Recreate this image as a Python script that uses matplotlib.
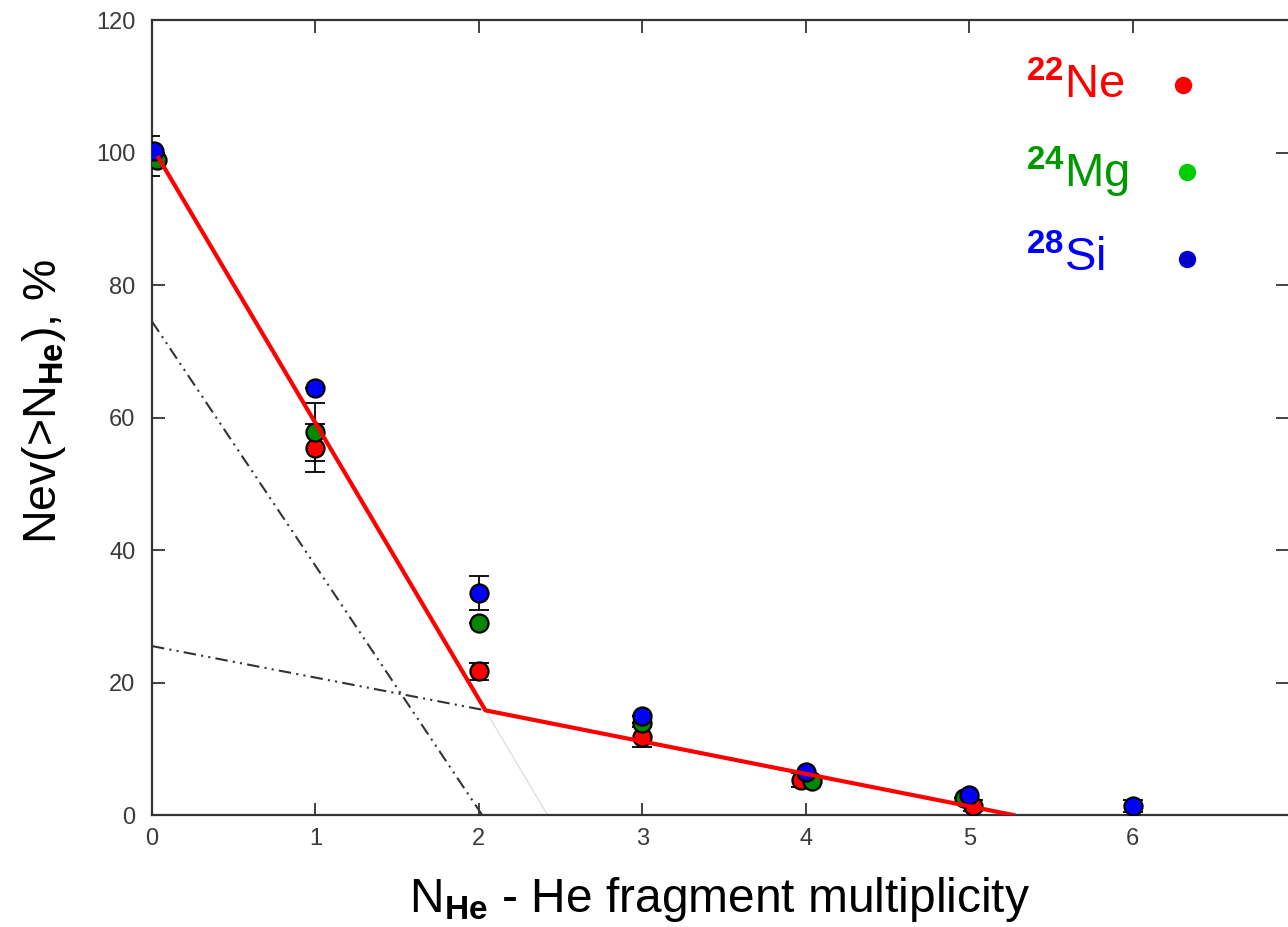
import numpy as np
import matplotlib.pyplot as plt

plt.rcParams['font.family'] = ['Liberation Sans', 'DejaVu Sans']
plt.rcParams['mathtext.fontset'] = 'custom'
plt.rcParams['mathtext.rm'] = 'Liberation Sans'
plt.rcParams['mathtext.bf'] = 'Liberation Sans:bold'

# data
x_ne = [-0.01, 1.0, 2.0, 3.0, 3.97, 5.02]
ne = [99.5, 55.4, 21.7, 11.8, 5.3, 1.4]
ne_err = [3.0, 3.6, 1.3, 1.5, 1.1, 0.8]

x_mg = [0.03, 1.0, 2.0, 3.0, 4.04, 4.97]
mg = [98.9, 57.8, 29.0, 13.9, 5.1, 2.5]
mg_err = [0.0, 4.4, 0.0, 0.0, 0.0, 0.0]

x_si = [0.01, 1.0, 2.0, 3.0, 4.0, 5.0, 6.0]
si = [100.2, 64.5, 33.5, 15.0, 6.5, 3.0, 1.4]
si_err = [0.0, 0.0, 2.6, 0.0, 0.0, 0.0, 0.9]

# two-slope fit (red) and its components
fit_x = [0.04, 2.04, 5.27]
fit_y = [99.2, 15.8, 0.0]
steep_x = [0.0, 2.02]
steep_y = [74.5, 0.0]
flat_x = [0.0, 2.04, 5.27]
flat_y = [25.5, 15.8, 0.0]
faint_x = [2.04, 2.42]
faint_y = [15.8, 0.0]

labels = [r'$^{\mathbf{22}}$Ne', r'$^{\mathbf{24}}$Mg', r'$^{\mathbf{28}}$Si']
text_colors = ['#ff0000', '#009900', '#0000ff']
dot_colors = ['#ff0000', '#00cc00', '#0000cc']
marker_colors = ['#ff0000', '#008800', '#0000ff']

fig = plt.figure(figsize=(12.88, 9.27), dpi=100)
ax = fig.add_axes([0.118, 0.1208, 0.882, 0.8576])

dashdot = (0, (6, 2.5, 1, 2.5, 1, 2.5))
ax.plot(steep_x, steep_y, color='#333333', lw=1.5, ls=dashdot, zorder=2)
ax.plot(flat_x, flat_y, color='#333333', lw=1.5, ls=dashdot, zorder=2)
ax.plot(faint_x, faint_y, color='#e0e0e0', lw=1.0, zorder=2)

for xs, ys, es, c in [(x_ne, ne, ne_err, marker_colors[0]),
                      (x_mg, mg, mg_err, marker_colors[1]),
                      (x_si, si, si_err, marker_colors[2])]:
    ax.errorbar(xs, ys, yerr=es, fmt='none', ecolor='black', elinewidth=1.3,
                capsize=7, capthick=1.3, zorder=3)
    ax.plot(xs, ys, 'o', color=c, mec='black', mew=1.6, ms=13, zorder=4)

ax.plot(fit_x, fit_y, color='#ff0000', lw=3, zorder=5)

ax.set_xlim(0, 6.95)
ax.set_ylim(0, 120)
ax.set_xticks(range(7))
ax.set_yticks(range(0, 121, 20))
ax.tick_params(direction='in', length=9, width=1.2, colors='#222222',
               labelsize=17, top=True, right=True, labelcolor='#3a3a3a')
ax.tick_params(axis='x', pad=9)
ax.tick_params(axis='y', pad=12)
for s in ['left', 'bottom', 'top']:
    ax.spines[s].set_linewidth(1.6)
    ax.spines[s].set_color('#333333')
ax.spines['right'].set_visible(False)

ax.set_xlabel(r'N$_{\mathbf{He}}$ - He fragment multiplicity', fontsize=34.5, labelpad=18)
ax.set_ylabel(r'Nev(>N$_{\mathbf{He}}$), %', fontsize=33.5)
ax.yaxis.set_label_coords(-0.074, 0.52)

# legend drawn as text and dots
for i in range(3):
    ax.text(5.35, 110.0 - i * 13.0, labels[i], color=text_colors[i], fontsize=34,
            va='center', ha='left')
    ax.plot(6.31 + (0.02 if i else 0), 110.2 - i * 13.1, 'o',
            color=dot_colors[i], ms=12.5, mew=0, clip_on=False)

fig.savefig('out.png', dpi=100)
